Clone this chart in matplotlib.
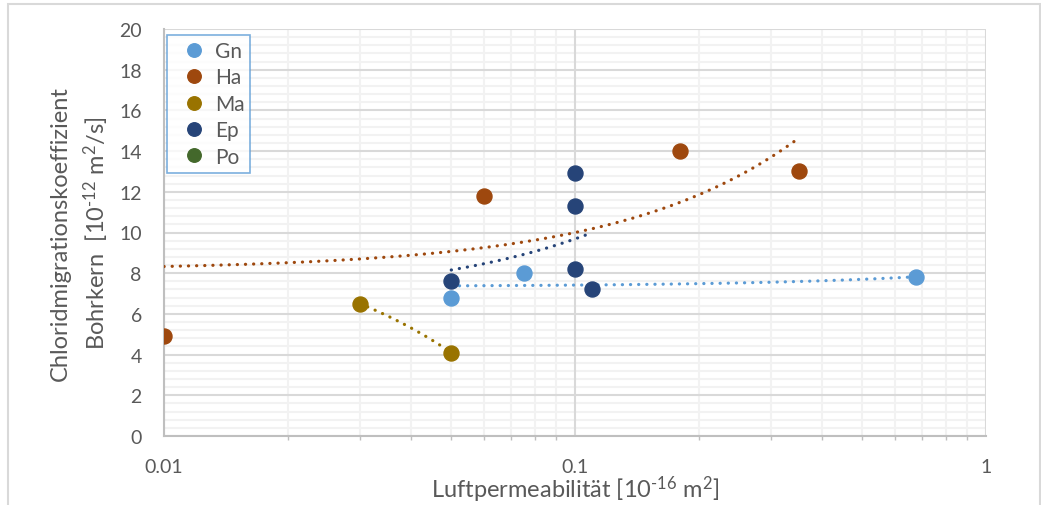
import numpy as np
import matplotlib
matplotlib.use("Agg")
import matplotlib.pyplot as plt
from matplotlib.patches import Rectangle
from matplotlib.ticker import LogLocator, MultipleLocator, FixedFormatter, FixedLocator

plt.rcParams['font.family'] = ['Lato', 'DejaVu Sans']
plt.rcParams['mathtext.fontset'] = 'custom'
plt.rcParams['mathtext.rm'] = 'Lato'
plt.rcParams['mathtext.it'] = 'Lato:italic'
plt.rcParams['mathtext.bf'] = 'Lato:bold'

gn_x = [0.05, 0.075, 0.676]
gn_y = [6.8, 8.0, 7.8]
ha_x = [0.01, 0.06, 0.18, 0.35]
ha_y = [4.9, 11.8, 14.0, 13.0]
ma_x = [0.03, 0.05]
ma_y = [6.5, 4.1]
ep_x = [0.05, 0.1, 0.1, 0.1, 0.11]
ep_y = [7.6, 12.9, 11.3, 8.2, 7.2]
po_x = []
po_y = []

series = [
    ("Gn", gn_x, gn_y, "#5B9BD5"),
    ("Ha", ha_x, ha_y, "#9E480E"),
    ("Ma", ma_x, ma_y, "#997300"),
    ("Ep", ep_x, ep_y, "#264478"),
    ("Po", po_x, po_y, "#43682B"),
]

txt = "#595959"

fig = plt.figure(figsize=(10.41, 5.06), dpi=100)
ax = fig.add_axes([164 / 1041, 69 / 506, 822 / 1041, 407 / 506])

for name, xs, ys, col in series:
    ax.plot(xs, ys, 'o', color=col, markersize=10.8, label=name, zorder=4)
    # lineare Trendlinie (wie in Excel)
    if len(xs) > 1:
        k, d = np.polyfit(xs, ys, 1)
        xt = np.geomspace(min(xs), max(xs), 200)
        ax.plot(xt, k * xt + d, color=col, lw=2.3, linestyle=(0, (0.05, 2.5)),
                dash_capstyle='round', zorder=3)

ax.set_xscale('log')
ax.set_xlim(0.01, 1)
ax.set_ylim(0, 20)

ax.xaxis.set_major_locator(FixedLocator([0.01, 0.1, 1]))
ax.xaxis.set_major_formatter(FixedFormatter(["0.01", "0.1", "1"]))
ax.xaxis.set_minor_locator(LogLocator(base=10, subs=np.arange(2, 10)))
ax.xaxis.set_minor_formatter(plt.NullFormatter())
ax.yaxis.set_major_locator(MultipleLocator(2))
ax.yaxis.set_minor_locator(MultipleLocator(0.4))

# Gitter: erst die feinen, dann die Hauptlinien darüber
for xv in ax.xaxis.get_minorticklocs():
    ax.axvline(xv, color='#F2F2F2', lw=1.5, zorder=0.1)
for yv in ax.yaxis.get_minorticklocs():
    ax.axhline(yv, color='#F2F2F2', lw=1.5, zorder=0.1)
for xv in ax.get_xticks():
    ax.axvline(xv, color='#D9D9D9', lw=1.5, zorder=0.2)
for yv in ax.get_yticks():
    ax.axhline(yv, color='#D9D9D9', lw=1.5, zorder=0.2)
ax.set_xlim(0.01, 1)
ax.set_ylim(0, 20)

for s in ['top', 'right']:
    ax.spines[s].set_visible(False)
for s in ['left', 'bottom']:
    ax.spines[s].set_color('#BFBFBF')
    ax.spines[s].set_linewidth(1.5)

ax.tick_params(axis='x', which='major', length=0, pad=16, labelsize=14, labelcolor=txt)
ax.tick_params(axis='x', which='minor', length=3, width=1, color='#BFBFBF', direction='out')
ax.tick_params(axis='y', which='both', length=0, pad=16, labelsize=14, labelcolor=txt)

ax.set_xlabel(r"Luftpermeabilität [10$^{\text{-16}}$ m$^{2}$]", fontsize=17, color=txt, labelpad=-1)
ax.set_ylabel("Chloridmigrationskoeffizient\n" + r"Bohrkern  [10$^{\text{-12}}$ m$^{2}$/s]",
              fontsize=17, color=txt, labelpad=6, linespacing=1.45)

leg = ax.legend(loc='upper left', bbox_to_anchor=(0.004, 0.985), fontsize=15,
                frameon=True, fancybox=False, borderpad=0.28, handletextpad=0.0,
                labelspacing=0.31, handlelength=2.0, borderaxespad=0, markerscale=0.9)
leg.get_frame().set_edgecolor('#5B9BD5')
leg.get_frame().set_linewidth(1.2)
for t in leg.get_texts():
    t.set_color(txt)

# Rahmen um das Diagramm
fig.patches.append(Rectangle((8 / 1041, -0.1), 1032 / 1041, 1.1 - 5 / 506,
                             transform=fig.transFigure, fill=False,
                             edgecolor='#D9D9D9', lw=1.5))

fig.savefig("out.png", dpi=100)
